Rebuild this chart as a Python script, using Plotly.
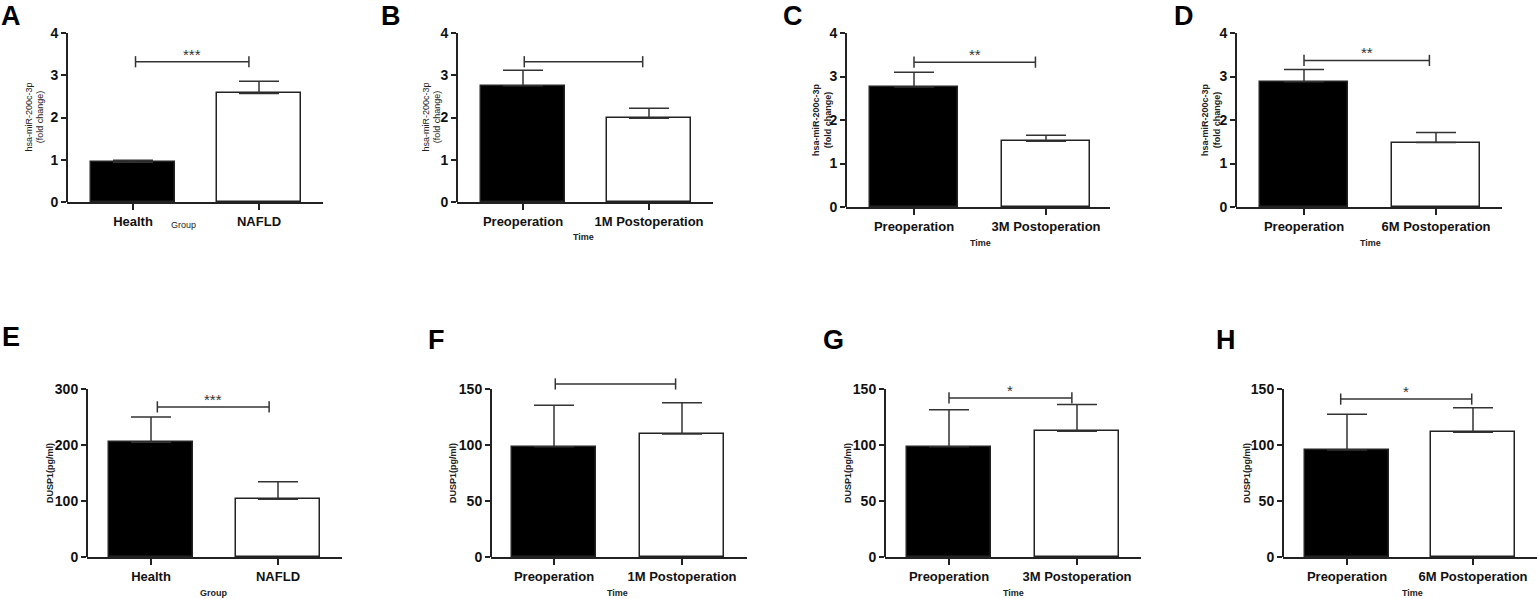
import plotly.graph_objects as go

# the captured page comes out ~1.3% squashed vertically, so the figure is drawn
# 607px tall and every vertical position is given as a fraction of the 599px target
W, H = 1539, 599
FIG_H = 607
FONT = 'Arial, "Liberation Sans", sans-serif'

# ---------------- data ----------------
labels_a = ['Health', 'NAFLD']
labels_b = ['Preoperation', '1M Postoperation']
labels_c = ['Preoperation', '3M Postoperation']
labels_d = ['Preoperation', '6M Postoperation']

# hsa-miR-200c-3p fold change (mean, upper error)
mir_mean_a = [0.94, 2.57]
mir_err_a = [0.05, 0.29]
mir_mean_b = [2.75, 1.98]
mir_err_b = [0.37, 0.24]
mir_mean_c = [2.76, 1.51]
mir_err_c = [0.34, 0.14]
mir_mean_d = [2.88, 1.48]
mir_err_d = [0.28, 0.23]

# DUSP1 (pg/ml)
dusp_mean_e = [205, 103]
dusp_err_e = [45, 31.5]
dusp_mean_f = [98.5, 109.8]
dusp_err_f = [37, 28]
dusp_mean_g = [98.5, 112.2]
dusp_err_g = [33, 24]
dusp_mean_h = [95.5, 111.3]
dusp_err_h = [32, 22]

# significance brackets (height, x-start, x-end, label)
bracket_y = [3.32, 3.32, 3.33, 3.37, 268, 154.5, 142, 141]
bracket_x = [[0.02, 0.92], [0.01, 0.95], [0.0, 0.92], [0.0, 0.95],
             [0.05, 0.93], [0.01, 0.95], [0.0, 0.96], [-0.05, 0.99]]
stars = ['***', '', '**', '**', '***', '', '*', '*']

panels = [
    dict(letter='A', labels=labels_a, mean=mir_mean_a, err=mir_err_a, ymax=4, dtick=1,
         ytitle='hsa-miR-200c-3p<br>(fold change)', ybold=False, xtitle='Group', xbold=False),
    dict(letter='B', labels=labels_b, mean=mir_mean_b, err=mir_err_b, ymax=4, dtick=1,
         ytitle='hsa-miR-200c-3p<br>(fold change)', ybold=False, xtitle='Time', xbold=True),
    dict(letter='C', labels=labels_c, mean=mir_mean_c, err=mir_err_c, ymax=4, dtick=1,
         ytitle='hsa-miR-200c-3p<br>(fold change)', ybold=True, xtitle='Time', xbold=True),
    dict(letter='D', labels=labels_d, mean=mir_mean_d, err=mir_err_d, ymax=4, dtick=1,
         ytitle='hsa-miR-200c-3p<br>(fold change)', ybold=True, xtitle='Time', xbold=True),
    dict(letter='E', labels=labels_a, mean=dusp_mean_e, err=dusp_err_e, ymax=300, dtick=100,
         ytitle='DUSP1(pg/ml)', ybold=True, xtitle='Group', xbold=True),
    dict(letter='F', labels=labels_b, mean=dusp_mean_f, err=dusp_err_f, ymax=150, dtick=50,
         ytitle='DUSP1(pg/ml)', ybold=True, xtitle='Time', xbold=True),
    dict(letter='G', labels=labels_c, mean=dusp_mean_g, err=dusp_err_g, ymax=150, dtick=50,
         ytitle='DUSP1(pg/ml)', ybold=True, xtitle='Time', xbold=True),
    dict(letter='H', labels=labels_d, mean=dusp_mean_h, err=dusp_err_h, ymax=150, dtick=50,
         ytitle='DUSP1(pg/ml)', ybold=True, xtitle='Time', xbold=True),
]

# ---------------- layout geometry (target pixels) ----------------
# axis box: left, right, top (max tick), bottom (zero), bar centre 1, bar centre 2
boxes = [
    (67, 323, 33, 202, 133, 259),
    (457, 713, 33, 202, 523, 649),
    (846, 1110, 33, 207, 914, 1046),
    (1236, 1502, 33, 207, 1304, 1436),
    (87, 342, 389, 557, 151, 278),
    (491, 747, 389, 557, 554, 682),
    (885, 1141, 389, 557, 949, 1077),
    (1283, 1537, 389, 557, 1347, 1473),
]
# letter: left edge, vertical centre (None = top of page)
letter_pos = [(0, None), (380, None), (782, None), (1173, None),
              (1, 337), (427, 340), (822, 340), (1215, 340)]
ytitle_x = [34, 431, 822, 1211, 50, 453, 848, 1247]
xtitle_pos = [(183, 225), (583, 237), (980, 243), (1370, 243),
              (213, 593), (617, 593), (1013, 593), (1412, 593)]

EXT = 25  # extra pixels above top tick so brackets are not clipped
AX = '#222222'
LN = '#333333'


def px(x):
    return x / W


def py(y):
    return 1 - y / H


fig = go.Figure()
annotations = []
shapes = []

for i, (p, box) in enumerate(zip(panels, boxes), start=1):
    left, right, top, bottom, c0, c1 = box
    span = c1 - c0
    hpx = bottom - top
    ext = min(EXT, top)
    ytop = p['ymax'] * (hpx + ext) / hpx
    sfx = '' if i == 1 else str(i)
    xa, ya = 'x' + sfx, 'y' + sfx

    fig.add_trace(go.Bar(
        x=[0, 1], y=p['mean'], width=0.66,
        marker=dict(color=['black', 'white'], line=dict(color=AX, width=1.5)),
        error_y=dict(type='data', array=p['err'], arrayminus=[0, 0], symmetric=False,
                     color=LN, thickness=1.5, width=20),
        xaxis=xa, yaxis=ya, showlegend=False, hoverinfo='skip'
    ))

    bx = bracket_x[i - 1]
    by = bracket_y[i - 1]
    fig.add_trace(go.Scatter(
        x=bx, y=[by, by], mode='lines+markers',
        line=dict(color=LN, width=1.5),
        marker=dict(symbol='line-ns', size=8, color=LN, line=dict(color=LN, width=1.5)),
        xaxis=xa, yaxis=ya, showlegend=False, hoverinfo='skip', cliponaxis=False
    ))
    if stars[i - 1]:
        annotations.append(dict(
            x=sum(bx) / 2, y=by, xref=xa, yref=ya, text=stars[i - 1],
            showarrow=False, yanchor='bottom', yshift=-3,
            font=dict(family=FONT, size=15, color='#333')
        ))

    fig.layout['xaxis' + sfx] = dict(
        domain=[px(left), px(right)], anchor=ya,
        range=[(left - c0) / span, (right - c0) / span],
        tickvals=[0, 1], ticktext=p['labels'],
        showline=True, linecolor=AX, linewidth=2,
        ticks='outside', ticklen=6, tickwidth=2, tickcolor=AX,
        tickfont=dict(family=FONT, size=13, color='#111', weight='bold'),
        showgrid=False, zeroline=False, fixedrange=True
    )
    fig.layout['yaxis' + sfx] = dict(
        domain=[py(bottom), py(top - ext)], anchor=xa,
        range=[0, ytop],
        tickvals=list(range(0, p['ymax'] + 1, p['dtick'])),
        showline=False,
        ticks='outside', ticklen=5, tickwidth=2, tickcolor=AX,
        tickfont=dict(family=FONT, size=14, color='#111', weight='bold'),
        showgrid=False, zeroline=False, fixedrange=True
    )
    # y-axis spine only up to the top tick
    shapes.append(dict(
        type='line', xref=xa + ' domain', yref=ya + ' domain',
        x0=0, x1=0, y0=0, y1=p['ymax'] / ytop,
        line=dict(color=AX, width=2)
    ))

    lx, ly = letter_pos[i - 1]
    annotations.append(dict(
        x=px(lx), y=1 if ly is None else py(ly), xref='paper', yref='paper',
        text=f'<b>{p["letter"]}</b>', showarrow=False, xanchor='left',
        yanchor='top' if ly is None else 'middle',
        borderpad=0, font=dict(family=FONT, size=27, color='black')
    ))

    yt = p['ytitle'] if not p['ybold'] else '<b>' + p['ytitle'].replace('<br>', '</b><br><b>') + '</b>'
    annotations.append(dict(
        x=px(ytitle_x[i - 1]), y=py((top + bottom) / 2), xref='paper', yref='paper',
        text=yt, textangle=-90, showarrow=False, xanchor='center', yanchor='middle',
        font=dict(family=FONT, size=9, color='#222')
    ))

    tx, ty = xtitle_pos[i - 1]
    xt = f'<b>{p["xtitle"]}</b>' if p['xbold'] else p['xtitle']
    annotations.append(dict(
        x=px(tx), y=py(ty), xref='paper', yref='paper', text=xt,
        showarrow=False, xanchor='center', yanchor='middle',
        font=dict(family=FONT, size=9, color='#222')
    ))

fig.update_layout(
    width=W, height=FIG_H,
    margin=dict(l=0, r=0, t=0, b=0),
    paper_bgcolor='white', plot_bgcolor='white',
    annotations=annotations, shapes=shapes,
    bargap=0
)

# drop the default 8px page margin so the figure starts at the window corner
fig.write_html("out.html", config={'displayModeBar': False},
               post_script="document.body.style.margin = '0';")
